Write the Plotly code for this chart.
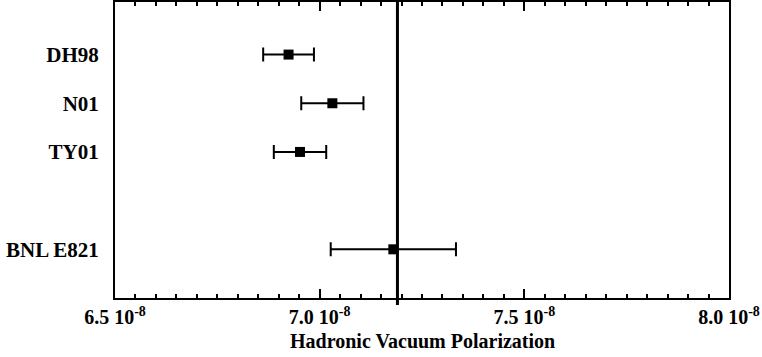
import plotly.graph_objects as go

# Hadronic vacuum polarization determinations (values in absolute units)
labels = ["DH98", "N01", "TY01", "BNL E821"]
values = [6.924e-8, 7.031e-8, 6.952e-8, 7.180e-8]
errors = [0.062e-8, 0.076e-8, 0.064e-8, 0.153e-8]
rows = [5, 4, 3, 1]

ref_value = 7.19e-8

xtick_vals = [6.5e-8, 7.0e-8, 7.5e-8, 8.0e-8]
xtick_text = ["6.5 10<sup>-8</sup>", "7.0 10<sup>-8</sup>", "7.5 10<sup>-8</sup>", "8.0 10<sup>-8</sup>"]

FONT = "Liberation Serif"

fig = go.Figure()

fig.add_trace(go.Scatter(
    x=values, y=rows,
    mode="markers",
    marker=dict(symbol="square", size=10, color="black"),
    error_x=dict(type="data", array=errors, visible=True,
                 color="black", thickness=2, width=7),
    showlegend=False,
    cliponaxis=False,
))

# reference line, poking just past the bottom axis like the original
fig.add_shape(type="line", xref="x", yref="paper",
              x0=ref_value, x1=ref_value, y0=-0.024, y1=1,
              line=dict(color="black", width=3))

fig.update_xaxes(
    range=[6.5e-8, 8.0e-8],
    tickvals=xtick_vals, ticktext=xtick_text,
    ticks="inside", ticklen=9, tickwidth=2, tickcolor="black",
    minor=dict(dtick=0.05e-8, tick0=6.5e-8, ticks="inside", ticklen=4,
               tickwidth=2, tickcolor="black"),
    showline=True, linecolor="black", linewidth=2, mirror="allticks",
    showgrid=False, zeroline=False, automargin=False,
    tickfont=dict(family=FONT, size=20, color="black", weight="bold"),
)

fig.update_yaxes(
    range=[0, 6.08],
    tickvals=rows, ticktext=labels,
    ticks="", showline=True, linecolor="black", linewidth=2, mirror=True,
    showgrid=False, zeroline=False, automargin=False,
    ticklabelstandoff=10,
    tickfont=dict(family=FONT, size=21, color="black", weight="bold"),
)

fig.add_annotation(
    text="<b>Hadronic Vacuum Polarization</b>",
    xref="paper", yref="paper", x=0.5, y=-0.145,
    xanchor="center", yanchor="middle", showarrow=False,
    font=dict(family=FONT, size=20, color="black"),
)

fig.update_layout(
    width=762, height=357,
    margin=dict(l=115, r=33, t=2, b=59),
    plot_bgcolor="white", paper_bgcolor="white",
)

# drop the default page margin so the figure sits at the window corner
fig.write_html("out.html", config={"displayModeBar": False},
               post_script="document.body.style.margin='0';")
